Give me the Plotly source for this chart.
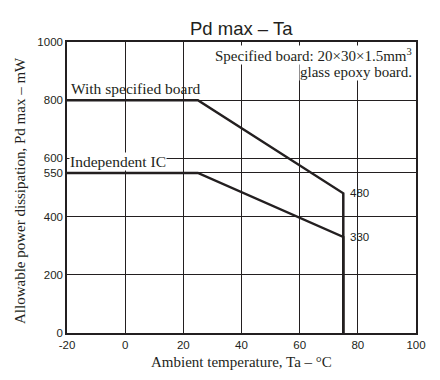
import plotly.graph_objects as go

ta_board = [-20, 25, 75, 75]
pd_board = [800, 800, 480, 0]
ta_ic = [-20, 25, 75, 75]
pd_ic = [550, 550, 330, 0]
x_ticks = [-20, 0, 20, 40, 60, 80, 100]
x_tick_labels = ["-20", "0", "20", "40", "60", "80", "100"]
y_ticks = [0, 200, 400, 550, 600, 800, 1000]
y_tick_labels = ["0", "200", "400", "550", "600", "800", "1000"]

serif = "Liberation Serif, Times New Roman, serif"
sans = "Liberation Sans, Arial, sans-serif"
ink = "#231f20"

fig = go.Figure()
fig.add_trace(go.Scatter(x=ta_board, y=pd_board, mode="lines",
                         line=dict(color=ink, width=2.5), showlegend=False))
fig.add_trace(go.Scatter(x=ta_ic, y=pd_ic, mode="lines",
                         line=dict(color=ink, width=2.5), showlegend=False))

fig.add_annotation(x=-20, y=800, text="With specified board", showarrow=False,
                   xanchor="left", yanchor="bottom", yshift=1, xshift=2,
                   font=dict(family=serif, size=15.5, color=ink))
fig.add_annotation(x=-20, y=600, text="Independent IC", showarrow=False,
                   xanchor="left", yanchor="middle", yshift=-3.5, xshift=2,
                   bgcolor="white", borderpad=0,
                   font=dict(family=serif, size=15.5, color=ink))
fig.add_annotation(x=98.8, y=955, text="Specified board: 20×30×1.5mm<sup>3</sup>",
                   showarrow=False, xanchor="right", yanchor="middle", bgcolor="white",
                   borderpad=0,
                   font=dict(family=serif, size=15, color=ink))
fig.add_annotation(x=98.8, y=897, text="glass epoxy board.",
                   showarrow=False, xanchor="right", yanchor="middle", bgcolor="white",
                   borderpad=0,
                   font=dict(family=serif, size=15, color=ink))
fig.add_annotation(x=ta_board[2], y=pd_board[2], text=str(pd_board[2]), showarrow=False,
                   xanchor="left", yanchor="middle", xshift=5,
                   font=dict(family=sans, size=11.5, color=ink))
fig.add_annotation(x=ta_ic[2], y=pd_ic[2], text=str(pd_ic[2]), showarrow=False,
                   xanchor="left", yanchor="middle", xshift=5,
                   font=dict(family=sans, size=11.5, color=ink))

# axis titles and chart title
fig.add_annotation(xref="paper", yref="paper", x=0, y=0.488, xshift=-47,
                   text="Allowable power dissipation, Pd max – mW", textangle=-90,
                   showarrow=False, xanchor="center", yanchor="middle",
                   font=dict(family=serif, size=15, color=ink))
fig.add_annotation(xref="paper", yref="paper", x=0.4986, y=0, yshift=-29,
                   text="Ambient temperature, Ta – °C",
                   showarrow=False, xanchor="center", yanchor="middle",
                   font=dict(family=serif, size=15, color=ink))
fig.add_annotation(xref="paper", yref="paper", x=0.4986, y=1, yshift=14,
                   text="Pd max – Ta",
                   showarrow=False, xanchor="center", yanchor="middle",
                   font=dict(family=sans, size=18.5, color=ink))

fig.update_layout(
    width=432, height=372,
    margin=dict(l=59, r=24, t=34, b=47, autoexpand=False),
    paper_bgcolor="white", plot_bgcolor="white",
    xaxis=dict(range=[-20, 100], tickvals=x_ticks, ticktext=x_tick_labels,
               showgrid=True, gridcolor=ink, automargin=False,
               gridwidth=1, zeroline=False, showline=True, linecolor=ink,
               linewidth=1.5, mirror=True, ticks="", ticklen=0,
               tickfont=dict(family=sans, size=11.5, color=ink)),
    yaxis=dict(range=[0, 1000], tickvals=y_ticks, ticktext=y_tick_labels,
               showgrid=True, gridcolor=ink, automargin=False,
               gridwidth=1, zeroline=False, showline=True, linecolor=ink,
               linewidth=1.5, mirror=True, ticks="", ticklen=0,
               tickfont=dict(family=sans, size=11.5, color=ink)),
)

fig.write_html("out.html")
